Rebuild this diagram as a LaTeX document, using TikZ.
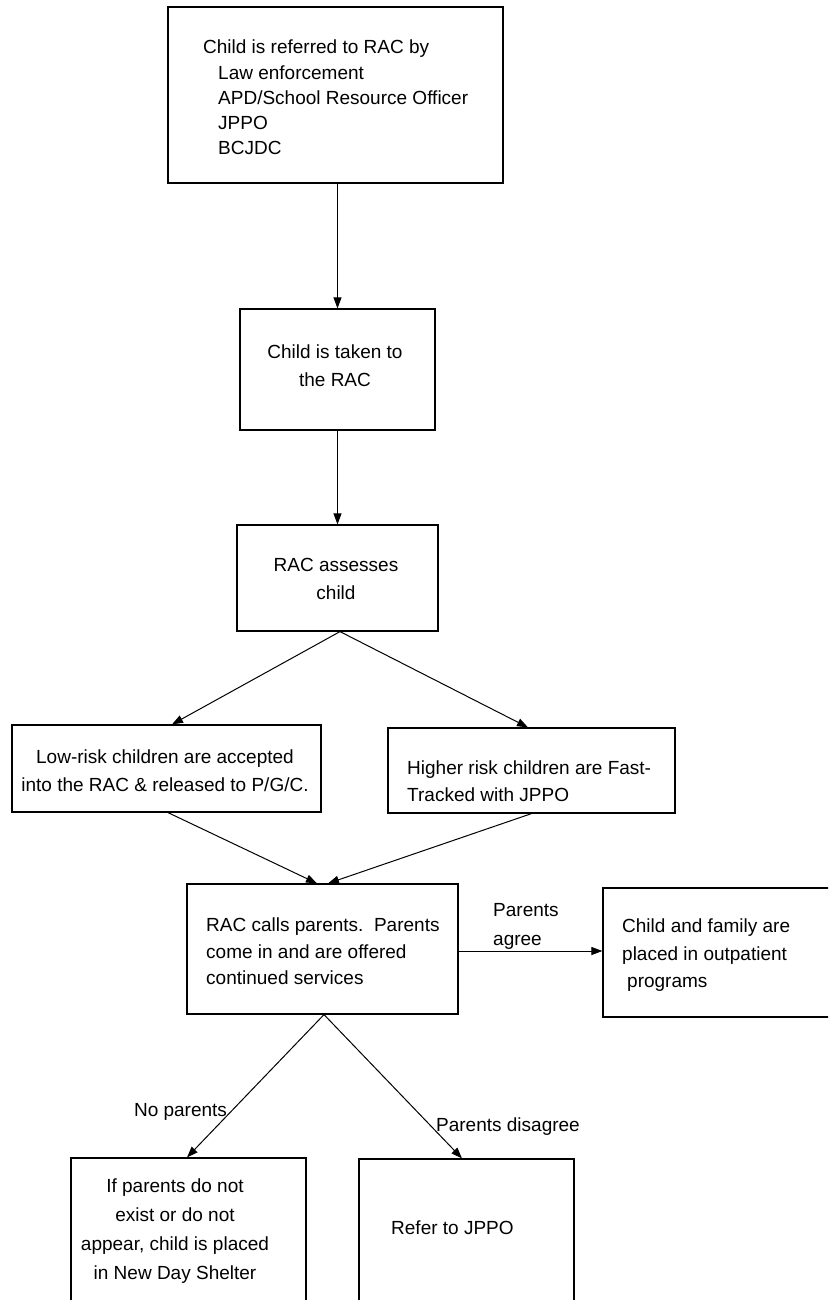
\documentclass[tikz,border=0pt]{standalone}
\usepackage{fontspec}
\setmainfont{Liberation Sans}
\usetikzlibrary{arrows.meta,calc}
\begin{document}
\begin{tikzpicture}[x=1pt,y=-1pt,
  box/.style={draw, line width=1.2pt, rectangle, inner sep=0pt},
  txt/.style={inner sep=0pt, font=\fontsize{19}{#1}\selectfont},
  txt/.default=26,
  arr/.style={line width=1pt, -{Triangle[length=11pt,width=8pt]}}]
\useasboundingbox (0,0) rectangle (828,1300);
\clip (0,0) rectangle (828,1300);
\fill[white] (0,0) rectangle (828,1300);
% boxes
\node[box, minimum width=335pt, minimum height=176pt] (b1) at (335.5,95) {};
\node[box, minimum width=195pt, minimum height=121pt] (b2) at (337.5,369.5) {};
\node[box, minimum width=201pt, minimum height=106pt] (b3) at (337.5,578) {};
\node[box, minimum width=309pt, minimum height=87pt] (low) at (166.5,768.5) {};
\node[box, minimum width=287pt, minimum height=85pt] (hi) at (531.5,770.5) {};
\node[box, minimum width=271pt, minimum height=130pt] (rac) at (322.5,949) {};
\node[box, minimum width=237pt, minimum height=129pt] (cf) at (721.5,952.5) {};
\node[box, minimum width=235pt, minimum height=162pt] (np) at (188.5,1239) {};
\node[box, minimum width=215pt, minimum height=161pt] (ref) at (466.5,1239.5) {};
% texts
\node[txt=25.25, align=left, anchor=west] (t1) at (203,97.5)
  {Child is referred to RAC by\\\hspace*{15pt}Law enforcement\\\hspace*{15pt}APD/School Resource Officer\\\hspace*{15pt}JPPO\\\hspace*{15pt}BCJDC};
\node[txt=28, align=center] (t2) at (335,366) {Child is taken to\\the RAC};
\node[txt=28, align=center] (t3) at (336,579) {RAC assesses\\child};
\node[txt=28, align=center] (t4) at (165,771) {Low-risk children are accepted\\into the RAC \& released to P/G/C.};
\node[txt=27, align=left, anchor=west] (t5) at (407,781.5) {Higher risk children are Fast-\\Tracked with JPPO};
\node[txt=26.5, align=left, anchor=west] (t6) at (206,951.5) {RAC calls parents.\ \ Parents\\come in and are offered\\continued services};
\node[txt=27.5, align=left, anchor=west] (t7) at (622,955.5) {Child and family are\\placed in outpatient\\\hspace*{5pt}programs};
\node[txt=29, align=center] (t8) at (175,1231.5) {If parents do not\\exist or do not\\appear, child is placed\\in New Day Shelter};
\node[txt, anchor=west] (t9) at (391,1228) {Refer to JPPO};
\node[txt=29, align=left, anchor=west] (la) at (493,926) {Parents\\agree};
\node[txt] (lb) at (180.5,1112) {No parents};
\node[txt] (lc) at (508,1127) {Parents disagree};
% connectors
\draw[arr] (b2.north |- b1.south) -- (b2.north);
\draw[arr] (b2.south) -- (b3.north);
\draw[arr] ([xshift=2.5pt]b3.south) -- ([xshift=5.5pt]low.north);
\draw[arr] ([xshift=2.5pt]b3.south) -- ([xshift=-3.5pt]hi.north);
\draw[arr] ([xshift=1.5pt]low.south) -- ([xshift=-5.5pt]rac.north);
\draw[arr] (hi.south) -- ([xshift=5.5pt]rac.north);
\draw[arr] ([yshift=-2pt]rac.east) -- ([yshift=-2pt]rac.east -| cf.west);
\draw[arr] ([xshift=1.5pt]rac.south) -- ([xshift=-1.5pt]np.north);
\draw[arr] ([xshift=1.5pt]rac.south) -- ([xshift=-4.5pt]ref.north);
\end{tikzpicture}
\end{document}
